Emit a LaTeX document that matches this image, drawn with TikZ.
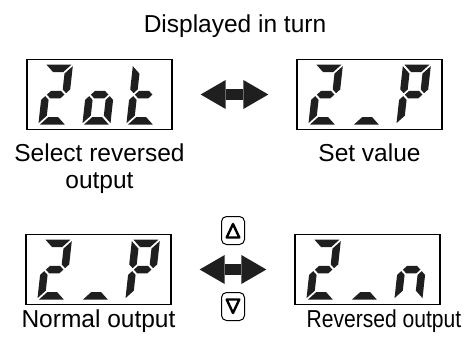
\documentclass[tikz,border=0pt]{standalone}
\usepackage{fontspec}
\setmainfont{Liberation Sans}
\usetikzlibrary{arrows.meta, positioning, calc}
\tikzstyle{display}  = [rectangle, draw=black, line width=1.3pt, minimum width=145pt,
                        minimum height=70pt, inner sep=0pt]
\tikzstyle{caption}  = [inner sep=0pt, align=center, font=\fontsize{24.5}{27}\selectfont]
\tikzstyle{segment}  = [fill=black!88]
\tikzstyle{toggle}   = [line width=11pt, draw=black!88,
                        {Triangle[width=29pt,length=25pt,line width=0pt]}-{Triangle[width=29pt,length=25pt,line width=0pt]}]
\tikzstyle{key}      = [rectangle, rounded corners=5pt, draw=black, line width=1pt,
                        minimum width=23pt, minimum height=28pt, inner sep=0pt]
\tikzstyle{keymark}  = [line width=2.4pt, line join=round]

% seven segments of one digit, 28 x 60
\newcommand{\sega}{\fill[segment] (1.5,60) -- (26.5,60) -- (19,52.5) -- (9,52.5) -- cycle;}
\newcommand{\segb}{\fill[segment] (28,58.5) -- (28,35.25) -- (24.25,31.5) -- (20.5,35.25) -- (20.5,51) -- cycle;}
\newcommand{\segc}{\fill[segment] (28,1.5) -- (28,24.75) -- (24.25,28.5) -- (20.5,24.75) -- (20.5,9) -- cycle;}
\newcommand{\segd}{\fill[segment] (1.5,0) -- (26.5,0) -- (19,7.5) -- (9,7.5) -- cycle;}
\newcommand{\sege}{\fill[segment] (0,1.5) -- (0,24.75) -- (3.75,28.5) -- (7.5,24.75) -- (7.5,9) -- cycle;}
\newcommand{\segf}{\fill[segment] (0,58.5) -- (0,35.25) -- (3.75,31.5) -- (7.5,35.25) -- (7.5,51) -- cycle;}
\newcommand{\segg}{\fill[segment] (5.25,30) -- (9,33.75) -- (19,33.75) -- (22.75,30) -- (19,26.25) -- (9,26.25) -- cycle;}
\newcommand{\showdigit}[2]{%
  \begin{scope}[xshift=#1, xslant=0.11]
    \foreach \s in {#2} {\csname seg\s\endcsname}
  \end{scope}}
\newcommand{\readout}[4]{%
  \begin{scope}[shift={(#1.south west)}, xshift=12pt, yshift=5.5pt]
    \showdigit{0pt}{#2}\showdigit{44pt}{#3}\showdigit{88pt}{#4}
  \end{scope}}

\begin{document}
\begin{tikzpicture}[x=1pt, y=1pt, node distance=13pt]
  \useasboundingbox (0,0) rectangle (465,338);
  \node[display] (sel)  at (99.5,243.5) {};
  \node[display] (setv) at (369.5,243.5) {};
  \node[display] (nor)  at (98.5,68.5) {};
  \node[display] (rev)  at (367.5,68.5) {};

  \readout{sel}{a,b,g,e,d}{c,d,e,g}{d,e,f,g}
  \readout{setv}{a,b,g,e,d}{d}{a,b,e,f,g}
  \readout{nor}{a,b,g,e,d}{d}{a,b,e,f,g}
  \readout{rev}{a,b,g,e,d}{d}{c,e,g}

  \node[caption, anchor=base] (title) at (235,305) {Displayed in turn};
  \node[caption, below=of sel]  (selcap)  {Select reversed\\output};
  \node[caption, below=of setv] (setvcap) {Set value};
  \node[caption, below=4pt of nor] (norcap) {Normal output};
  \node[caption, below=4pt of rev, xshift=16.5pt, xscale=0.86, transform shape] (revcap) {Reversed output};

  \draw[toggle] ([xshift=28pt]sel.east) -- ([xshift=-28pt]setv.west);
  \draw[toggle] ([xshift=28pt]nor.east) -- ([xshift=-28pt]rev.west);

  \coordinate (mid) at ($(nor.east)!0.5!(rev.west)$);
  \node[key, above=24.5pt of mid] (up)   {};
  \node[key, below=22.5pt of mid] (down) {};
  \draw[keymark] ($(up)+(-6.3,-7)$) -- ($(up)+(6.3,-7)$) -- ($(up)+(0,6.5)$) -- cycle;
  \draw[keymark] ($(down)+(-6.3,7)$) -- ($(down)+(6.3,7)$) -- ($(down)+(0,-6.5)$) -- cycle;
\end{tikzpicture}
\end{document}
